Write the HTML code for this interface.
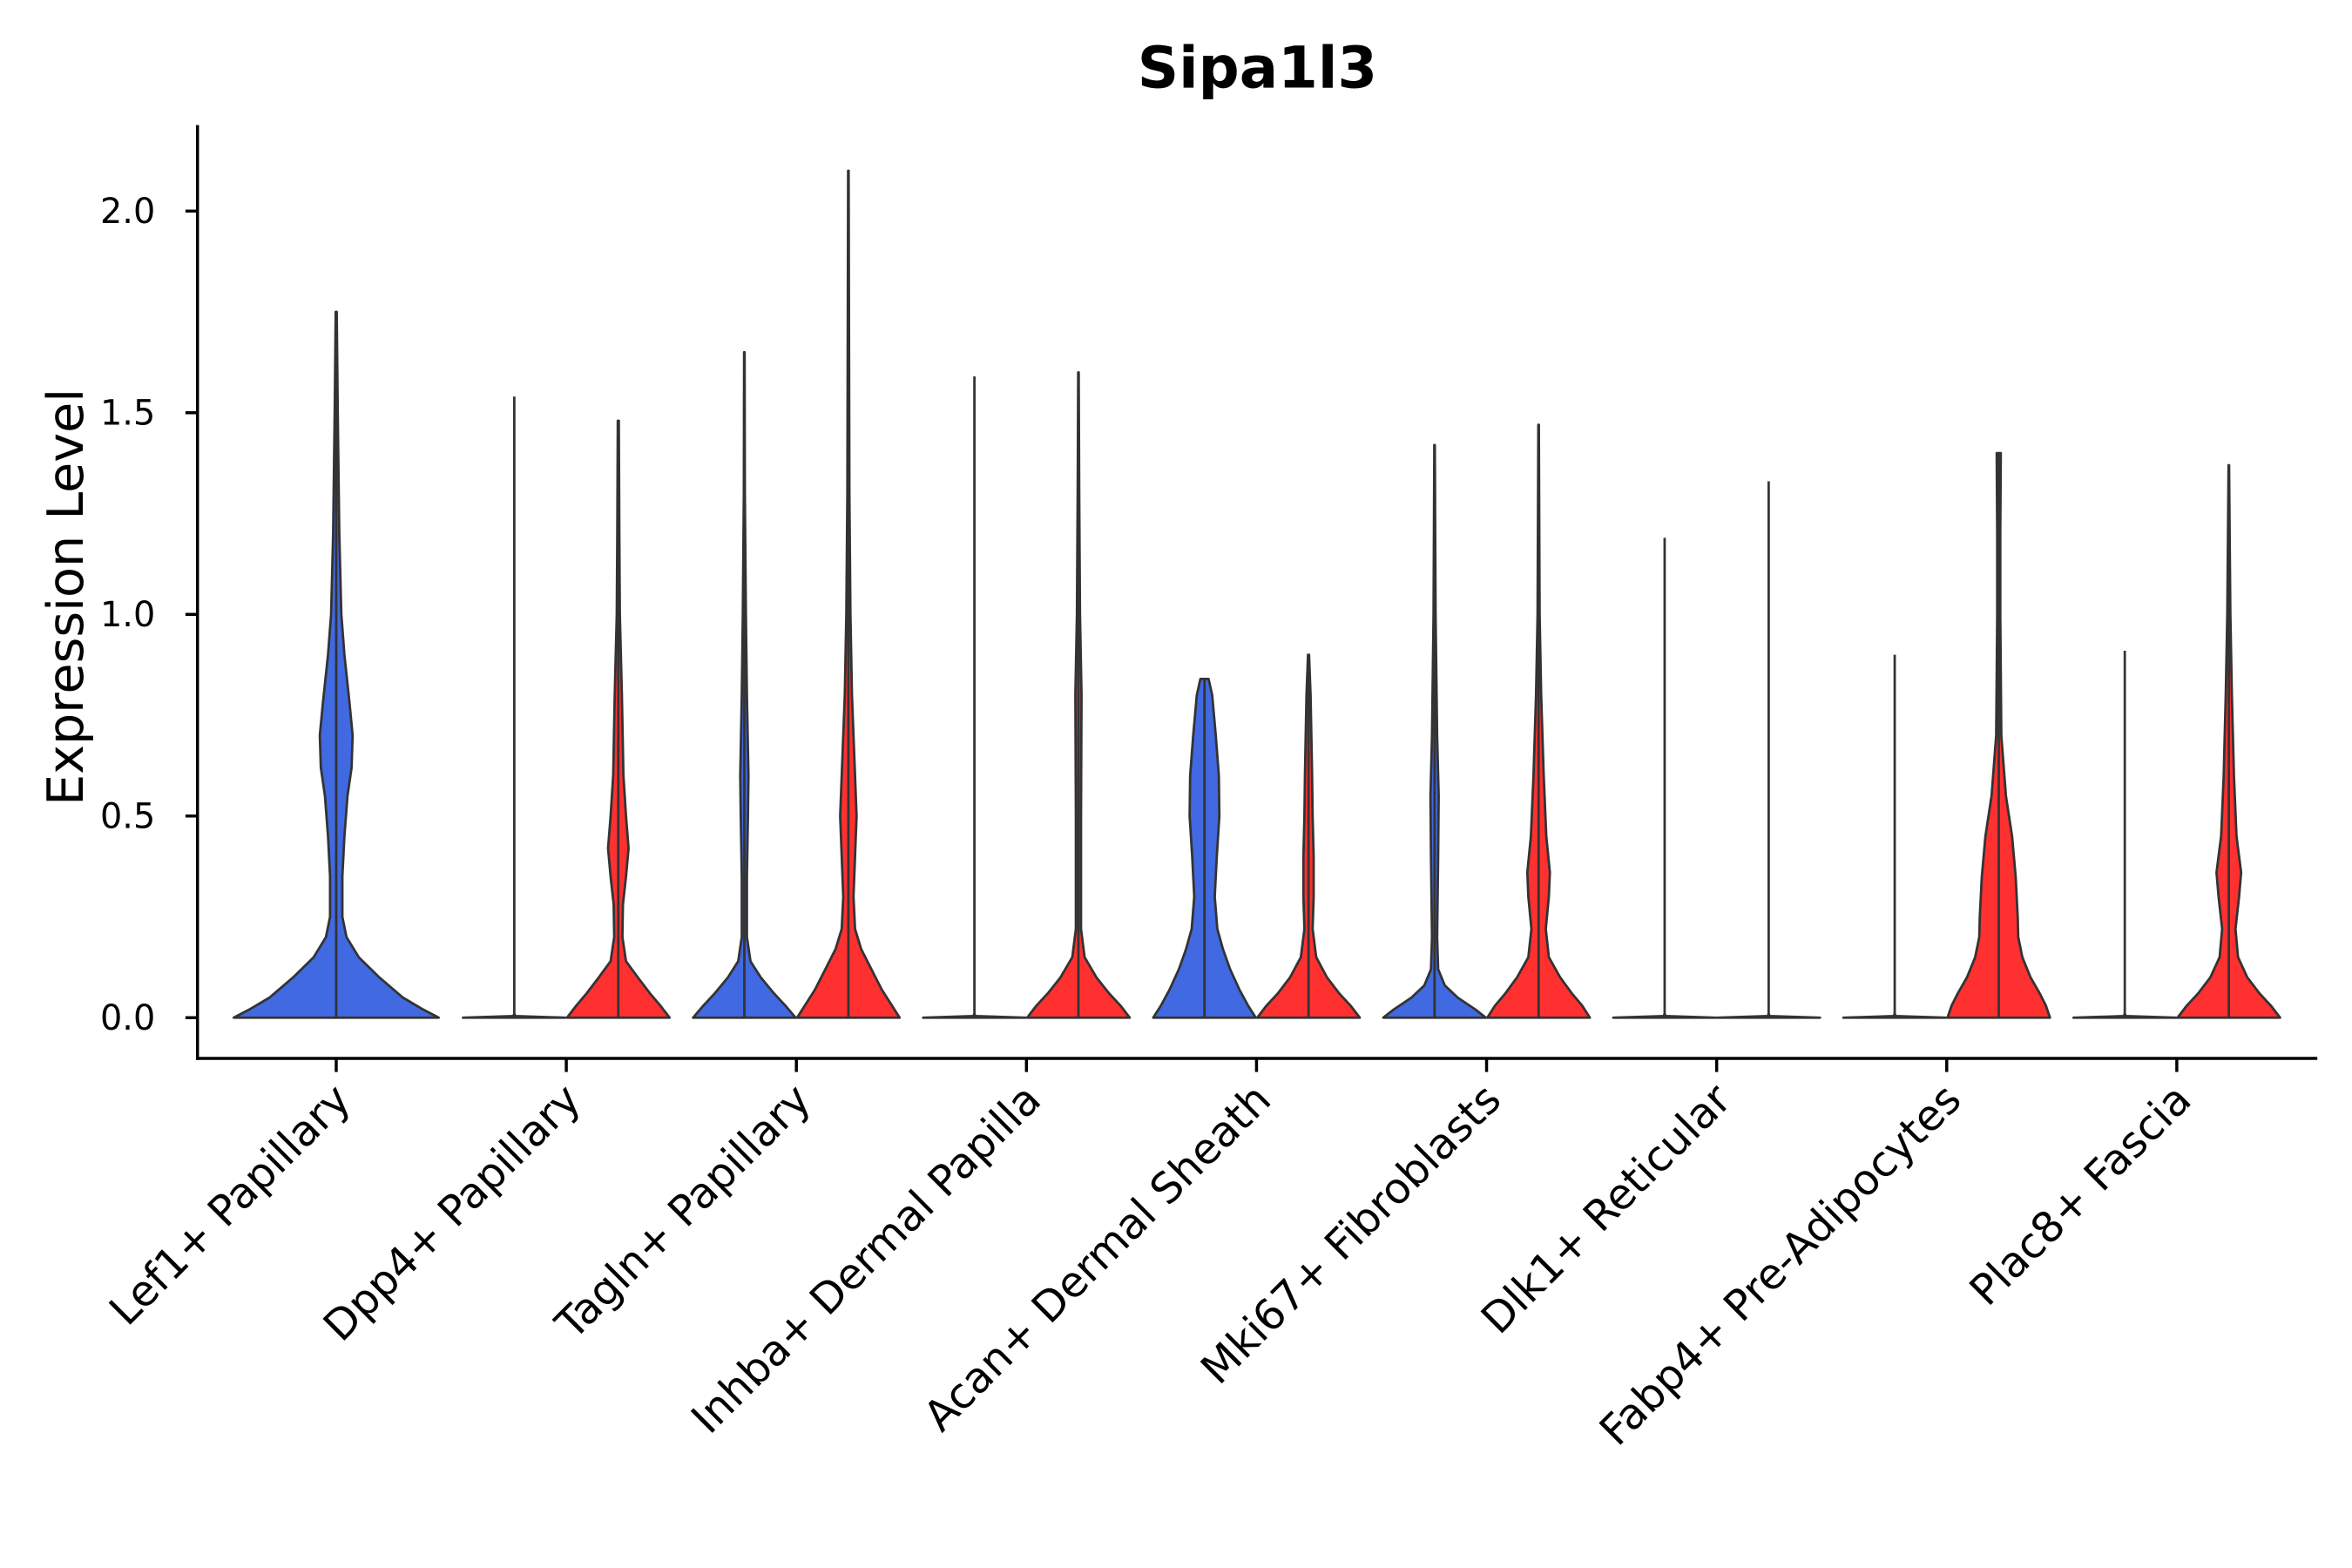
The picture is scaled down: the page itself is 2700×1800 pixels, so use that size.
<!DOCTYPE html>
<html><head><meta charset="utf-8"><style>
html,body{margin:0;padding:0;background:#fff;}
svg{display:block;font-family:"DejaVu Sans","Liberation Sans",sans-serif;}
</style></head><body>
<svg id="chart" width="2700" height="1800" viewBox="0 0 1560 1040" xmlns="http://www.w3.org/2000/svg">
<text x="834" y="58" text-anchor="middle" font-size="38" font-weight="bold">Sipa1l3</text>
<text transform="translate(55,396) rotate(-90)" text-anchor="middle" font-size="33">Expression Level</text>
<g id="plot"></g>
</svg>
<script>
const categories = ["Lef1+ Papillary","Dpp4+ Papillary","Tagln+ Papillary","Inhba+ Dermal Papilla","Acan+ Dermal Sheath","Mki67+ Fibroblasts","Dlk1+ Reticular","Fabp4+ Pre-Adipocytes","Plac8+ Fascia"];
const yTicks = [0, 0.5, 1.0, 1.5, 2.0];
const yTickLabels = ["0.0","0.5","1.0","1.5","2.0"];
const violinCategory = [0,1,1,2,2,3,3,4,4,5,5,6,6,7,7,8,8];
const violinGroup = [-1,0,1,0,1,0,1,0,1,0,1,0,1,0,1,0,1];
const violinMax = [1.75,1.54,1.48,1.65,2.1,1.59,1.6,0.84,0.9,1.42,1.47,1.19,1.33,0.9,1.4,0.91,1.37];
const flat = [[0,1],[0.004,0.02],[0.01,0]];
const violinDensity = [
 [[0,1],[0.02,0.85],[0.05,0.65],[0.1,0.42],[0.15,0.22],[0.2,0.1],[0.25,0.06],[0.35,0.06],[0.45,0.08],[0.55,0.11],[0.62,0.15],[0.7,0.16],[0.78,0.13],[0.9,0.08],[1.0,0.05],[1.2,0.03],[1.5,0.015],[1.75,0.005]],
 flat,
 [[0,1],[0.03,0.82],[0.06,0.62],[0.1,0.38],[0.14,0.15],[0.2,0.08],[0.28,0.09],[0.35,0.15],[0.42,0.2],[0.5,0.15],[0.6,0.1],[0.8,0.07],[1.0,0.03],[1.2,0.02],[1.48,0.01]],
 [[0,1],[0.03,0.8],[0.06,0.58],[0.1,0.32],[0.14,0.12],[0.2,0.05],[0.35,0.05],[0.5,0.07],[0.6,0.08],[0.8,0.05],[1.0,0.03],[1.3,0.01],[1.65,0.005]],
 [[0,1],[0.03,0.85],[0.07,0.65],[0.12,0.45],[0.17,0.25],[0.22,0.13],[0.3,0.1],[0.4,0.13],[0.5,0.16],[0.6,0.13],[0.8,0.07],[1.0,0.04],[1.3,0.02],[2.1,0.005]],
 flat,
 [[0,1],[0.03,0.82],[0.06,0.6],[0.1,0.35],[0.15,0.12],[0.22,0.05],[0.5,0.05],[0.8,0.06],[1.0,0.03],[1.3,0.015],[1.6,0.005]],
 [[0,1],[0.03,0.85],[0.07,0.68],[0.12,0.5],[0.17,0.36],[0.22,0.25],[0.3,0.2],[0.4,0.24],[0.5,0.29],[0.6,0.28],[0.7,0.22],[0.8,0.15],[0.84,0.08]],
 [[0,1],[0.03,0.82],[0.06,0.6],[0.1,0.36],[0.15,0.15],[0.22,0.08],[0.3,0.1],[0.4,0.1],[0.5,0.08],[0.6,0.07],[0.8,0.04],[0.9,0.01]],
 [[0,1],[0.02,0.8],[0.05,0.45],[0.08,0.2],[0.12,0.07],[0.2,0.05],[0.4,0.07],[0.55,0.08],[0.7,0.05],[1.0,0.02],[1.42,0.005]],
 [[0,1],[0.03,0.85],[0.06,0.65],[0.1,0.42],[0.15,0.2],[0.22,0.14],[0.3,0.2],[0.36,0.22],[0.45,0.15],[0.6,0.1],[0.8,0.05],[1.0,0.02],[1.47,0.005]],
 flat, flat, flat,
 [[0,1],[0.03,0.92],[0.06,0.8],[0.1,0.62],[0.15,0.46],[0.2,0.38],[0.25,0.37],[0.35,0.33],[0.45,0.26],[0.55,0.14],[0.7,0.05],[1.0,0.03],[1.2,0.03],[1.4,0.04]],
 flat,
 [[0,1],[0.03,0.82],[0.06,0.6],[0.1,0.36],[0.15,0.18],[0.22,0.13],[0.3,0.2],[0.36,0.24],[0.45,0.15],[0.6,0.1],[0.8,0.06],[1.0,0.03],[1.37,0.005]]
];
const NS="http://www.w3.org/2000/svg";
const plot=document.getElementById('plot');
const yScale=v=>675-v*267.5;
const xScale=i=>223+i*152.6;
const halfW=34;
function el(tag,attrs){const e=document.createElementNS(NS,tag);for(const k in attrs)e.setAttribute(k,attrs[k]);return e;}
const yAxis=el('line',{x1:131,y1:83,x2:131,y2:703,stroke:'#000','stroke-width':2});


plot.appendChild(yAxis);
const xAxis=el('line',{x1:130,y1:702,x2:1537,y2:702,stroke:'#000','stroke-width':2});


plot.appendChild(xAxis);
yTicks.forEach((v,i)=>{
  const y=yScale(v);
  const t=el('line',{x1:123,y1:y,x2:131,y2:y,stroke:'#000','stroke-width':2});
  
  
  plot.appendChild(t);
  const tx=el('text',{x:103,y:y+8,'text-anchor':'end','font-size':23});
  
  
  tx.textContent=yTickLabels[i];plot.appendChild(tx);
});
categories.forEach((c,i)=>{
  const x=xScale(i);
  const t=el('line',{x1:x,y1:702,x2:x,y2:711,stroke:'#000','stroke-width':2});
  
  
  plot.appendChild(t);
  const tx=el('text',{transform:`translate(${x+11},${731}) rotate(-45)`,'text-anchor':'end','font-size':28});
  
  
  tx.textContent=c;plot.appendChild(tx);
});
violinCategory.forEach((ci,k)=>{
  const g=violinGroup[k];
  const cx=g<0?xScale(ci):xScale(ci)+(g===0?-34.5:34.5);
  const scale=g<0?2*halfW:halfW;
  const fill=g===1?'#FF3030':'#4169E1';
  const dens=violinDensity[k];
  const right=dens.map(([v,w])=>[cx+w*scale,yScale(v)]);
  const left=dens.slice().reverse().map(([v,w])=>[cx-w*scale,yScale(v)]);
  const pts=right.concat(left).map(p=>p[0].toFixed(2)+','+p[1].toFixed(2)).join(' ');
  const p=el('polygon',{points:pts,fill:fill,stroke:'#333','stroke-width':1.6,'stroke-linejoin':'round'});
  
  
  plot.appendChild(p);
  const ln=el('line',{x1:cx,y1:yScale(0),x2:cx,y2:yScale(violinMax[k]),stroke:'#333','stroke-width':1.6});
  
  
  plot.appendChild(ln);
});
</script>
</body></html>
